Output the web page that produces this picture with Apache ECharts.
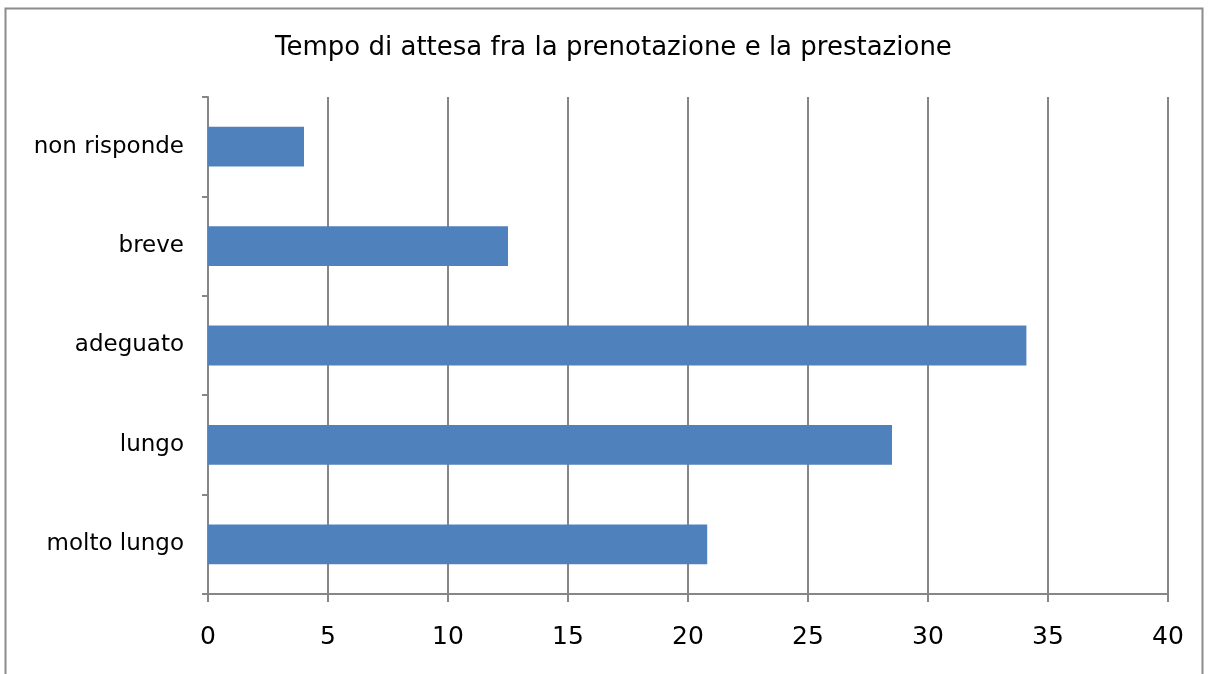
<!DOCTYPE html>
<html>
<head>
<meta charset="utf-8">
<script src="https://cdn.jsdelivr.net/npm/echarts@6/dist/echarts.min.js"></script>
<style>
  html, body { margin: 0; padding: 0; background: #fff; }
  #chart { width: 1208px; height: 674px; }
</style>
</head>
<body>
<div id="chart"></div>
<script>
var categories = ['non risponde', 'breve', 'adeguato', 'lungo', 'molto lungo'];
var values = [4, 12.5, 34.1, 28.5, 20.8];
var xTicks = [0, 5, 10, 15, 20, 25, 30, 35, 40];

var myChart = echarts.init(document.getElementById('chart'));
var font = '"DejaVu Sans", sans-serif';

var option = {
    backgroundColor: '#fff',
    animation: false,
    title: {
        text: 'Tempo di attesa fra la prenotazione e la prestazione',
        left: 270,
        top: 30,
        textStyle: { fontFamily: font, fontSize: 26, fontWeight: 'normal', color: '#000' }
    },
    graphic: [{
        type: 'rect',
        shape: { x: 5.5, y: 8.5, width: 1197, height: 700 },
        style: { fill: 'none', stroke: '#8c8c8c', lineWidth: 2 },
        silent: true
    }],
    grid: { left: 208, right: 40, top: 97, bottom: 80 },
    xAxis: {
        type: 'value',
        min: xTicks[0],
        max: xTicks[xTicks.length - 1],
        interval: 5,
        axisLine: { show: true, lineStyle: { color: '#868686', width: 2 } },
        axisTick: { show: true, length: 8, lineStyle: { color: '#868686', width: 2 } },
        splitLine: { show: true, lineStyle: { color: '#868686', width: 2 } },
        axisLabel: { fontFamily: font, fontSize: 25, color: '#000', margin: 31 }
    },
    yAxis: {
        type: 'category',
        inverse: true,
        data: categories,
        axisLine: { show: true, lineStyle: { color: '#868686', width: 2 } },
        axisTick: { show: true, length: 6, lineStyle: { color: '#868686', width: 2 } },
        axisLabel: { fontFamily: font, fontSize: 23, color: '#000', margin: 24 }
    },
    series: [{
        type: 'bar',
        data: values,
        barCategoryGap: '60%',
        itemStyle: { color: '#4F81BD' }
    }]
};
myChart.setOption(option);
</script>
</body>
</html>
